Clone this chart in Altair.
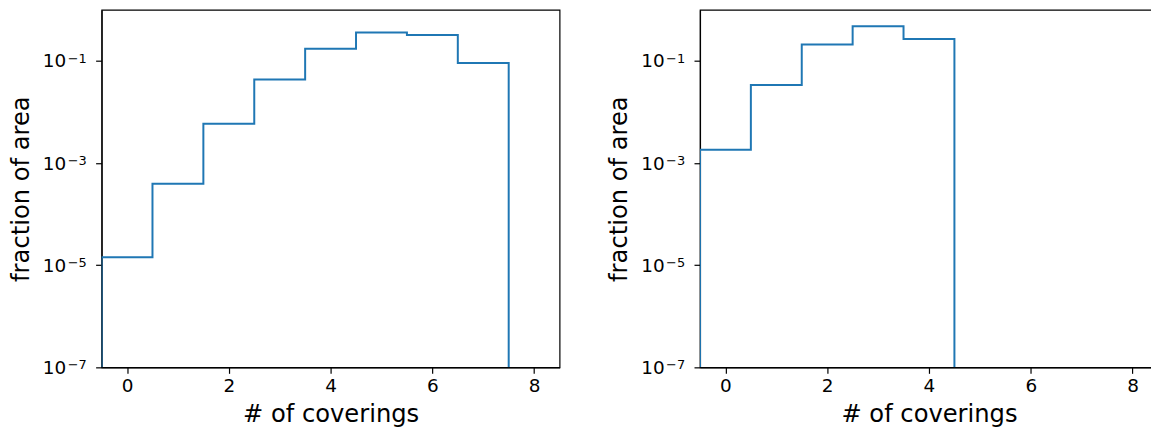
import math
import altair as alt
import pandas as pd

# ---- data ----
coverings_left = [0, 1, 2, 3, 4, 5, 6, 7]
fraction_left = [1.43e-5, 3.95e-4, 5.9e-3, 0.0432, 0.174, 0.361, 0.321, 0.0914]

coverings_right = [0, 1, 2, 3, 4]
fraction_right = [1.82e-3, 0.034, 0.211, 0.481, 0.268]

x_ticks = [0, 2, 4, 6, 8]
x_domain = [-0.5, 8.5]
y_ticks = [1e-7, 1e-5, 1e-3, 1e-1]
y_tick_base = "10"
y_tick_exponents = ["−7", "−5", "−3", "−1"]
y_domain = [1e-7, 1.0]

x_title = "# of coverings"
y_title = "fraction of area"
line_color = "#1f77b4"
FONT = "DejaVu Sans"


def step_outline(centers, values, floor, bin_width=1.0):
    """Histogram step outline (matplotlib histtype='step') from bin centers/values."""
    half = bin_width / 2
    xs = [centers[0] - half]
    ys = [floor]
    for c, v in zip(centers, values):
        xs += [c - half, c + half]
        ys += [v, v]
    xs.append(centers[-1] + half)
    ys.append(floor)
    return pd.DataFrame({"x": xs, "y": ys, "order": list(range(len(xs)))})


sup_df = pd.DataFrame({"y": y_ticks, "sup": y_tick_exponents})

y_scale = alt.Scale(type="log", domain=y_domain, nice=False)


def panel(centers, values):
    df = step_outline(centers, values, y_domain[0])
    line = (
        alt.Chart(df)
        .mark_line(color=line_color, strokeWidth=2, clip=True, interpolate="linear")
        .encode(
            x=alt.X(
                "x:Q",
                scale=alt.Scale(domain=x_domain, nice=False, zero=False),
                axis=alt.Axis(values=x_ticks, title=x_title, format="d"),
            ),
            y=alt.Y(
                "y:Q",
                scale=y_scale,
                axis=alt.Axis(
                    values=y_ticks,
                    title=y_title,
                    labelExpr=f"'{y_tick_base}'",
                    labelPadding=30,
                    titlePadding=9,
                ),
            ),
            order="order:Q",
        )
    )
    sup = (
        alt.Chart(sup_df)
        .mark_text(align="left", baseline="alphabetic", fontSize=13, font=FONT, color="black", dy=2)
        .encode(
            x=alt.value(-34),
            y=alt.Y("y:Q", scale=y_scale),
            text="sup:N",
        )
    )
    return alt.layer(line, sup).properties(width=460, height=359)


chart = (
    alt.hconcat(panel(coverings_left, fraction_left), panel(coverings_right, fraction_right), spacing=46)
    .properties(padding={"left": 0, "top": 0, "right": -8, "bottom": 0})
    .configure_view(stroke="black", strokeWidth=1.2)
    .configure_axis(
        grid=False,
        domainColor="black",
        domainWidth=1.2,
        tickColor="black",
        tickWidth=1.2,
        tickSize=6,
        labelFont=FONT,
        titleFont=FONT,
        labelFontSize=18.5,
        titleFontSize=24.3,
        titleFontWeight="normal",
        labelColor="black",
        titleColor="black",
    )
    .configure_axisX(labelPadding=3, titlePadding=8)
)

chart.save("out.html", embed_options={"renderer": "svg", "actions": False})
